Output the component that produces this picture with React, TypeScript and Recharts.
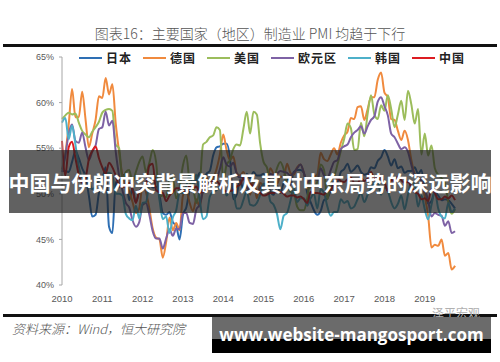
import { LineChart, Line, XAxis, YAxis } from 'recharts';

// monthly PMI, Jan 2010 - Oct 2019
const years = ['2010', '2011', '2012', '2013', '2014', '2015', '2016', '2017', '2018', '2019'];
const yTicks = [40, 45, 50, 55, 60, 65];

const japan = [
  52.5, 52.5, 52.4, 53.5, 54.7, 53.9, 52.8, 51.9, 49.8, 47.5, 47.7, 50.1,
  51.4, 52.9, 46.4, 45.7, 51.3, 50.7, 52.1, 51.9, 49.3, 50.6, 49.1, 50.2,
  50.7, 50.5, 51.1, 50.7, 50.8, 49.9, 47.9, 47.7, 48.0, 46.9, 46.5, 45.0,
  47.7, 48.5, 50.4, 51.1, 51.5, 52.3, 50.7, 52.2, 52.5, 54.2, 55.1, 55.2,
  55.5, 55.5, 53.9, 49.4, 49.9, 51.5, 50.5, 52.2, 51.7, 52.4, 52.0, 52.0,
  52.2, 51.6, 50.3, 49.9, 50.9, 50.1, 51.2, 51.7, 51.0, 52.4, 52.6, 52.6,
  52.3, 50.1, 49.1, 48.2, 47.7, 48.1, 49.3, 49.5, 50.4, 51.4, 51.3, 52.4,
  52.7, 53.3, 52.4, 52.7, 53.1, 52.4, 52.1, 52.2, 52.9, 52.8, 53.6, 54.0,
  54.8, 54.1, 53.1, 53.8, 52.8, 53.0, 52.3, 52.5, 52.5, 52.9, 52.2, 52.6,
  50.3, 48.9, 49.2, 50.2, 49.8, 49.3, 49.4, 49.3, 48.9, 48.4,
];
const germany = [
  52.7, 54.4, 57.6, 61.5, 58.4, 58.4, 61.2, 58.2, 55.1, 56.6, 58.1, 60.7,
  60.5, 62.7, 60.9, 62.0, 57.7, 54.6, 52.0, 50.9, 50.3, 49.1, 47.9, 48.4,
  51.0, 50.2, 48.4, 46.2, 45.2, 45.0, 43.0, 44.7, 47.4, 46.0, 46.8, 46.0,
  49.8, 50.3, 49.0, 48.1, 49.4, 48.6, 50.7, 51.8, 51.1, 51.7, 52.7, 54.3,
  56.5, 54.8, 53.7, 54.1, 52.3, 52.0, 52.4, 51.4, 49.9, 51.4, 49.5, 51.2,
  50.9, 51.1, 52.8, 52.1, 51.1, 51.9, 51.8, 53.3, 52.3, 52.1, 52.9, 53.2,
  52.3, 50.5, 50.7, 51.8, 52.1, 54.5, 53.8, 53.6, 54.3, 55.0, 54.3, 55.6,
  56.4, 56.8, 58.3, 58.2, 59.5, 59.6, 58.1, 59.3, 60.6, 60.6, 62.5, 63.3,
  61.1, 60.6, 58.2, 58.1, 56.9, 55.9, 56.9, 55.9, 53.7, 52.2, 51.8, 51.5,
  49.7, 47.6, 44.1, 44.4, 44.3, 45.0, 43.2, 43.5, 41.7, 42.1,
];
const usa = [
  58.2, 58.6, 58.9, 58.7, 58.8, 57.8, 56.9, 56.5, 56.2, 56.8, 57.3, 57.9,
  58.9, 59.2, 59.3, 59.1, 55.4, 55.0, 51.5, 52.4, 52.6, 51.3, 52.4, 53.5,
  54.1, 52.4, 53.4, 54.8, 53.5, 49.7, 49.8, 49.6, 51.5, 51.7, 49.5, 50.7,
  53.1, 54.2, 51.3, 50.7, 49.0, 50.9, 55.4, 55.7, 56.2, 56.4, 57.3, 57.0,
  51.3, 53.2, 53.7, 54.9, 55.4, 55.3, 57.1, 59.0, 56.6, 59.0, 58.7, 55.5,
  53.5, 52.9, 51.5, 51.5, 52.8, 53.5, 52.7, 51.1, 50.2, 50.1, 48.6, 48.2,
  48.2, 49.5, 51.8, 50.8, 51.3, 53.2, 52.6, 49.4, 51.5, 51.9, 53.2, 54.7,
  56.0, 57.7, 57.2, 54.8, 54.9, 57.8, 56.3, 58.8, 60.8, 58.7, 58.2, 59.7,
  59.1, 60.8, 59.3, 57.3, 58.7, 60.2, 58.1, 61.3, 59.8, 57.7, 59.3, 54.3,
  56.6, 54.2, 55.3, 52.8, 52.1, 51.7, 51.2, 49.1, 47.8, 48.3,
];
const euroArea = [
  52.4, 54.2, 56.6, 57.6, 55.8, 55.6, 56.7, 55.1, 53.7, 54.6, 55.3, 57.1,
  57.3, 59.0, 57.5, 58.0, 54.6, 52.0, 50.4, 49.0, 48.5, 47.1, 46.4, 46.9,
  48.8, 49.0, 47.7, 45.9, 45.1, 45.1, 44.0, 45.1, 46.1, 45.4, 46.2, 46.1,
  47.9, 47.9, 46.8, 46.7, 48.3, 48.8, 50.3, 51.4, 51.1, 51.3, 51.6, 52.7,
  54.0, 53.2, 53.0, 53.4, 52.2, 51.8, 51.8, 50.7, 50.3, 50.6, 50.1, 50.6,
  51.0, 51.0, 52.2, 52.0, 52.2, 52.5, 52.4, 52.3, 52.0, 52.3, 52.8, 53.2,
  52.3, 51.2, 51.6, 51.7, 51.5, 52.8, 52.0, 51.7, 52.6, 53.5, 53.7, 54.9,
  55.2, 55.4, 56.2, 56.7, 57.0, 57.4, 56.6, 57.4, 58.1, 58.5, 60.1, 60.6,
  59.6, 58.6, 56.6, 56.2, 55.5, 54.9, 55.1, 54.6, 53.2, 52.0, 51.8, 51.4,
  50.5, 49.3, 47.5, 47.9, 47.7, 47.6, 46.5, 47.0, 45.7, 45.9,
];
const korea = [
  57.8, 58.3, 56.0, 57.5, 55.4, 53.0, 51.8, 52.2, 51.5, 50.5, 50.8, 51.5,
  51.8, 52.2, 52.3, 52.0, 50.0, 50.0, 49.8, 47.8, 47.3, 47.1, 48.7, 47.3,
  49.0, 49.1, 51.1, 51.7, 51.8, 49.4, 47.2, 47.5, 45.7, 47.4, 48.2, 50.1,
  50.1, 50.9, 52.0, 51.1, 52.1, 49.4, 47.2, 47.5, 49.7, 50.2, 50.4, 50.8,
  50.9, 49.8, 50.4, 50.2, 48.4, 48.4, 49.3, 50.3, 48.8, 48.7, 49.0, 49.9,
  51.1, 51.1, 49.2, 48.8, 47.8, 46.1, 47.6, 47.9, 49.2, 50.7, 49.1, 49.5,
  49.5, 48.7, 49.5, 50.0, 48.4, 50.5, 50.1, 48.6, 47.6, 48.0, 48.0, 49.4,
  49.0, 49.2, 48.4, 48.6, 49.4, 50.1, 49.1, 49.9, 50.6, 51.2, 51.2, 49.9,
  50.7, 50.3, 49.1, 48.4, 48.9, 49.8, 48.3, 49.9, 51.3, 51.0, 48.6, 49.8,
  48.3, 47.2, 48.8, 50.2, 48.4, 47.5, 47.3, 49.0, 48.0, 48.4,
];
const china = [
  55.8, 52.0, 55.1, 55.7, 53.9, 52.1, 51.2, 51.7, 53.8, 54.7, 55.2, 53.9,
  52.9, 52.2, 53.4, 52.9, 52.0, 50.9, 50.7, 50.9, 51.2, 50.4, 49.0, 50.3,
  50.5, 51.0, 53.1, 53.3, 50.4, 50.2, 50.1, 49.2, 49.8, 50.2, 50.6, 50.6,
  50.4, 50.1, 50.9, 50.6, 50.8, 50.1, 50.3, 51.0, 51.1, 51.4, 51.4, 51.0,
  50.5, 50.2, 50.3, 50.4, 50.8, 51.0, 51.7, 51.1, 51.1, 50.8, 50.3, 50.1,
  49.8, 49.9, 50.1, 50.1, 50.2, 50.2, 50.0, 49.7, 49.8, 49.8, 49.6, 49.7,
  49.4, 49.0, 50.2, 50.1, 50.1, 50.0, 49.9, 50.4, 50.4, 51.2, 51.7, 51.4,
  51.3, 51.6, 51.8, 51.2, 51.2, 51.7, 51.4, 51.7, 52.4, 51.6, 51.8, 51.6,
  51.3, 50.3, 51.5, 51.4, 51.9, 51.5, 51.2, 51.3, 50.8, 50.2, 50.0, 49.4,
  49.5, 49.2, 50.5, 50.1, 49.4, 49.4, 49.7, 49.5, 49.8, 49.3,
];

const series = [
  { key: '日本', values: japan, color: '#2e6fb4' },
  { key: '德国', values: germany, color: '#f08a3e' },
  { key: '美国', values: usa, color: '#9cbd5c' },
  { key: '欧元区', values: euroArea, color: '#7e62a5' },
  { key: '韩国', values: korea, color: '#4db0c9' },
  { key: '中国', values: china, color: '#dc1c22' },
];

const data = japan.map((_, i) => {
  const row: Record<string, number> = { i };
  series.forEach((s) => { row[s.key] = s.values[i]; });
  return row;
});

const xTicks = years.map((_, k) => k * 12);

function LegendRow() {
  return (
    <div style={{ position: 'absolute', left: 79, top: 49, display: 'flex', alignItems: 'center', height: 18 }}>
      {series.map((s) => (
        <div key={s.key} style={{ display: 'flex', alignItems: 'center', marginRight: 11 }}>
          <div style={{ width: 23, height: 2, background: s.color, marginRight: 4 }} />
          <span style={{ fontSize: 12, fontWeight: 700, letterSpacing: 1, color: '#222', fontFamily: '"Noto Sans CJK SC"', lineHeight: '18px' }}>{s.key}</span>
        </div>
      ))}
    </div>
  );
}

export default function App() {
  return (
    <div style={{ position: 'relative', width: 500, height: 362, background: '#fff', overflow: 'hidden' }}>
      <style>{'body{margin:0}'}</style>
      <div style={{ position: 'absolute', left: 0, width: 500, top: 23, textAlign: 'center', fontSize: 14, color: '#555', fontFamily: '"Noto Sans CJK SC"', fontWeight: 300, lineHeight: '20px' }}>
        图表16：主要国家（地区）制造业 PMI 均趋于下行
      </div>
      <div style={{ position: 'absolute', left: 3, width: 494, top: 44, height: 2.5, background: '#111' }} />

      <LineChart width={500} height={362} data={data} margin={{ top: 57, right: 45, bottom: 0, left: 0 }}>
        <XAxis
          dataKey="i"
          type="number"
          domain={[0, 117]}
          ticks={xTicks}
          tickFormatter={(v) => years[v / 12]}
          axisLine={false}
          tickLine={false}
          tickSize={0}
          tickMargin={10}
          height={77}
          tick={{ fontSize: 9.5, fill: '#595959', fontFamily: 'Liberation Sans' }}
        />
        <YAxis
          domain={[40, 65]}
          ticks={yTicks}
          tickFormatter={(v) => `${v}%`}
          width={62}
          axisLine={{ stroke: '#a6a6a6' }}
          tickLine={{ stroke: '#a6a6a6' }}
          tickSize={3}
          tickMargin={5}
          tick={{ fontSize: 9, fill: '#595959', fontFamily: 'Liberation Sans' }}
        />
        {series.map((s) => (
          <Line
            key={s.key}
            type="monotone"
            dataKey={s.key}
            stroke={s.color}
            strokeWidth={2}
            dot={false}
            isAnimationActive={false}
          />
        ))}
      </LineChart>

      <LegendRow />

      <div style={{ position: 'absolute', left: 3, width: 494, top: 314, height: 2.5, background: '#111' }} />
      <div style={{ position: 'absolute', left: 432, top: 304, fontSize: 12, color: '#b0b0b0', fontFamily: '"Noto Sans CJK SC"' }}>泽平宏观</div>
      <div style={{ position: 'absolute', left: 12, top: 319, fontSize: 13, fontStyle: 'italic', color: '#555', fontFamily: '"Noto Sans CJK SC"', fontWeight: 300 }}>
        资料来源：Wind，恒大研究院
      </div>

      <div style={{ position: 'absolute', left: 9, top: 150, width: 482, height: 63, background: 'rgba(30,30,30,0.7)', display: 'flex', alignItems: 'center', justifyContent: 'center' }}>
        <span style={{ color: '#fff', fontSize: 21, fontWeight: 700, fontFamily: '"Noto Sans CJK SC"', whiteSpace: 'nowrap' }}>
          中国与伊朗冲突背景解析及其对中东局势的深远影响
        </span>
      </div>

      <div style={{ position: 'absolute', left: 212, top: 317, width: 279, height: 22, background: '#6b6b6b' }} />
      <div style={{ position: 'absolute', left: 212, top: 339, width: 279, height: 14, background: '#000' }} />
      <div style={{ position: 'absolute', left: 212, top: 324, width: 279, textAlign: 'center', color: '#fff', fontSize: 17, fontWeight: 700, fontFamily: '"Open Sans"', lineHeight: '22px', whiteSpace: 'nowrap' }}>
        www.website-mangosport.com
      </div>
    </div>
  );
}
